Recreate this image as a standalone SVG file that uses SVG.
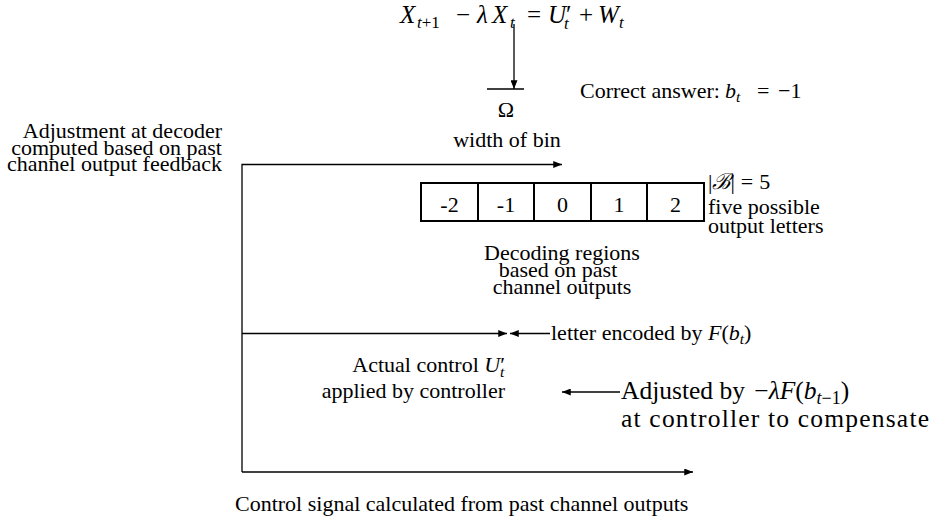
<svg xmlns="http://www.w3.org/2000/svg" width="935" height="521" viewBox="0 0 935 521" font-family="'Liberation Serif', 'Times New Roman', serif">
<style>
text{font-family:'Liberation Serif','Times New Roman',serif;font-size:22px;fill:#000}
.i{font-style:italic}
.s{font-size:15.5px}
.m{text-anchor:middle}
.e{text-anchor:end}
.eq{font-size:25px}
.eq .s{font-size:17px}
.big{font-size:25.5px}
.big .s{font-size:18px}
.ln{stroke:#000;stroke-width:1.3;fill:none}
.cell{stroke:#000;stroke-width:2;fill:#fff}
</style>
<defs>
<marker id="ah" viewBox="0 0 10 8" refX="10" refY="4" markerWidth="10" markerHeight="7" markerUnits="userSpaceOnUse" orient="auto">
<path d="M0,0 L10,4 L0,8 Z" fill="#000"/>
</marker>
</defs>
<rect width="935" height="521" fill="#fff"/>

<g id="connectors">
<line class="ln" x1="514" y1="24" x2="514" y2="89" marker-end="url(#ah)"/>
<line class="ln" x1="487" y1="89" x2="524" y2="89"/>
<polyline class="ln" points="242,472 242,164.5 562,164.5" marker-end="url(#ah)"/>
<line class="ln" x1="242" y1="333.5" x2="507" y2="333.5" marker-end="url(#ah)"/>
<line class="ln" x1="550" y1="333.5" x2="510" y2="333.5" marker-end="url(#ah)"/>
<line class="ln" x1="620" y1="392" x2="562" y2="392" marker-end="url(#ah)"/>
<line class="ln" x1="242" y1="472" x2="693" y2="472" marker-end="url(#ah)"/>
</g>

<g id="equation">
<text class="eq" y="23"><tspan x="400" class="i">X</tspan><tspan x="417" dy="5" class="s i">t</tspan><tspan class="s">+1</tspan><tspan x="456" dy="-5">−</tspan><tspan x="477" class="i">λ</tspan><tspan x="492" class="i">X</tspan><tspan x="510" dy="5" class="s i">t</tspan><tspan x="527" dy="-5">=</tspan><tspan x="548" class="i">U</tspan><tspan x="566">′</tspan><tspan x="564" dy="6" class="s i">t</tspan><tspan x="579" dy="-6">+</tspan><tspan x="598" class="i">W</tspan><tspan x="619" dy="5" class="s i">t</tspan></text>
</g>

<g id="bin-width">
<text class="m" x="506" y="117">Ω</text>
<text class="m" x="507" y="147">width of bin</text>
</g>

<g id="correct-answer">
<text y="98"><tspan x="580">Correct answer:</tspan><tspan x="725" class="i">b</tspan><tspan x="736" dy="4" class="s i">t</tspan><tspan x="757" dy="-4">=</tspan><tspan x="778">−1</tspan></text>
</g>

<g id="decoder-adjustment">
<text class="e" x="222" y="138">Adjustment at decoder</text>
<text class="e" x="222" y="155">computed based on past</text>
<text class="e" x="222" y="171">channel output feedback</text>
</g>

<g id="decoding-regions">
<rect class="cell" x="421" y="183" width="283" height="38"/>
<line class="cell" x1="478" y1="183" x2="478" y2="221"/>
<line class="cell" x1="534" y1="183" x2="534" y2="221"/>
<line class="cell" x1="591" y1="183" x2="591" y2="221"/>
<line class="cell" x1="647" y1="183" x2="647" y2="221"/>
<text class="m" x="449.5" y="212">-2</text>
<text class="m" x="506" y="212">-1</text>
<text class="m" x="562.5" y="212">0</text>
<text class="m" x="619" y="212">1</text>
<text class="m" x="675.5" y="212">2</text>
</g>

<g id="alphabet-size">
<text y="189"><tspan x="708">|</tspan><tspan class="i">ℬ</tspan><tspan>|</tspan><tspan dx="6">=</tspan><tspan dx="6">5</tspan></text>
<text x="708" y="214">five possible</text>
<text x="708" y="233">output letters</text>
</g>

<g id="decoding-label">
<text class="m" x="562" y="260">Decoding regions</text>
<text class="m" x="558" y="277">based on past</text>
<text class="m" x="562" y="294">channel outputs</text>
</g>

<g id="letter-encoded">
<text x="551" y="340">letter encoded by <tspan class="i">F</tspan>(<tspan class="i">b</tspan><tspan class="s i" dy="4">t</tspan><tspan dy="-4">)</tspan></text>
</g>

<g id="actual-control">
<text class="e" x="505" y="372">Actual control <tspan class="i">U</tspan>′<tspan class="s i" dx="-5" dy="5">t</tspan></text>
<text class="e" x="505" y="398">applied by controller</text>
</g>

<g id="controller-adjustment">
<text class="big" x="621" y="399">Adjusted by <tspan dx="3">−</tspan><tspan class="i">λF</tspan>(<tspan class="i">b</tspan><tspan class="s" dy="5"><tspan class="i">t</tspan>−1</tspan><tspan dy="-5">)</tspan></text>
<text class="big" x="621" y="427" textLength="308" lengthAdjust="spacing">at controller to compensate</text>
</g>

<g id="control-signal">
<text x="235" y="511">Control signal calculated from past channel outputs</text>
</g>
</svg>
